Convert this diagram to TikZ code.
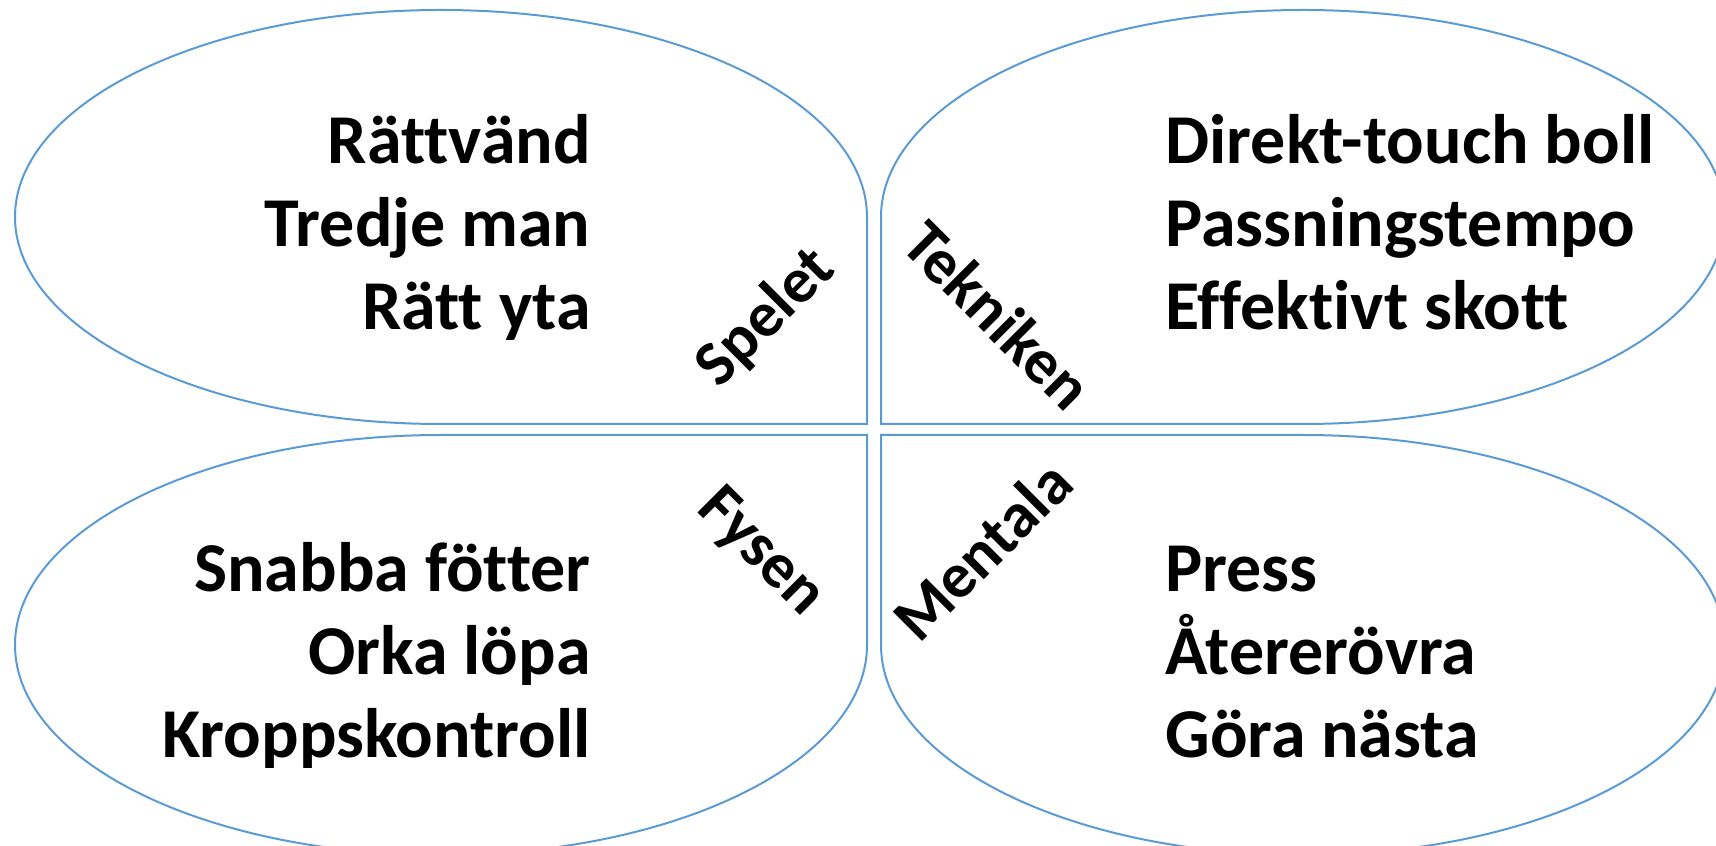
\documentclass[tikz,border=0pt]{standalone}
\usepackage{fontspec}
\setmainfont{Carlito}[Ligatures=NoCommon]
\usetikzlibrary{positioning}

\definecolor{leafblue}{RGB}{91,155,213}
\tikzset{
  leaf/.style={draw=leafblue, line width=1pt},
  item/.style={font=\fontsize{35}{42}\selectfont\bfseries, inner sep=0pt},
  corner/.style={font=\fontsize{32}{38}\selectfont\bfseries, inner sep=0pt},
}

\begin{document}
\begin{tikzpicture}[x=0.5pt, y=0.5pt]
        \useasboundingbox (0,0) rectangle (1716,845);
        \clip (0,0) rectangle (1716,845);

        % four leaves, square corner towards the middle
        \draw[leaf] (441,421) arc[start angle=270, end angle=0, x radius=426, y radius=207]
            -- (867,421) -- cycle;
        \draw[leaf] (1303,421) arc[start angle=270, end angle=540, x radius=422, y radius=207]
            -- (881,421) -- cycle;
        \draw[leaf] (441,410) arc[start angle=90, end angle=360, x radius=426, y radius=210]
            -- (867,410) -- cycle;
        \draw[leaf] (1303,410) arc[start angle=90, end angle=-180, x radius=422, y radius=210]
            -- (881,410) -- cycle;

        % corner labels
        \node[corner, rotate=45] (spelet) at (766,527) {Spelet};
        \node[corner, rotate=-45] (tekniken) at (998,530) {Tekniken};
        \node[corner, rotate=-45] (fysen) at (760,292) {Fysen};
        \node[corner, rotate=45] (mentala) at (982,295) {Mentala};

        % lists
        \foreach \t[count=\i] in {Rättvänd, Tredje man, Rätt yta} {
            \node[item, anchor=base east] (spel\i) at (591, 764-83*\i) {\t};
        }
        \foreach \t[count=\i] in {Direkt-touch boll, Passningstempo, Effektivt skott} {
            \node[item, anchor=base west] (teknik\i) at (1165, 764-83*\i) {\t};
        }
        \foreach \t[count=\i] in {Snabba fötter, Orka löpa, Kroppskontroll} {
            \node[item, anchor=base east] (fys\i) at (591, 336-83*\i) {\t};
        }
        \foreach \t[count=\i] in {Press, Återerövra, Göra nästa} {
            \node[item, anchor=base west] (mental\i) at (1165, 336-83*\i) {\t};
        }
    \end{tikzpicture}
\end{document}
